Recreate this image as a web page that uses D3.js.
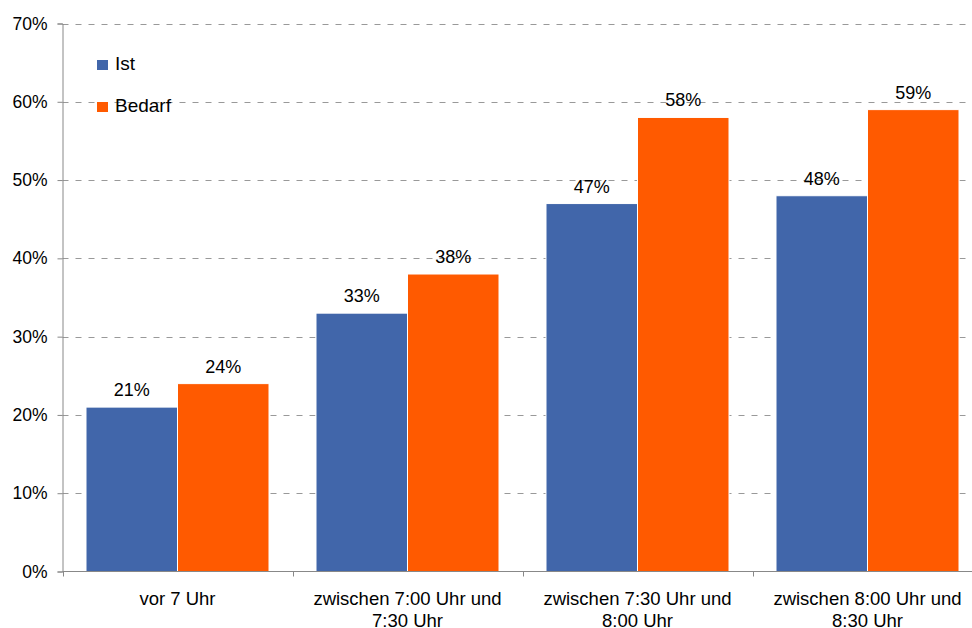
<!DOCTYPE html>
<html>
<head>
<meta charset="utf-8">
<script src="https://cdn.jsdelivr.net/npm/d3@7"></script>
<style>
  body { margin: 0; background: #fff; }
  text { font-family: "Liberation Sans", Arial, sans-serif; fill: #000; }
</style>
</head>
<body>
<div id="chart"></div>
<script>
var width = 972, height = 628;

var categories = [
  ["vor 7 Uhr"],
  ["zwischen 7:00 Uhr und", "7:30 Uhr"],
  ["zwischen 7:30 Uhr und", "8:00 Uhr"],
  ["zwischen 8:00 Uhr und", "8:30 Uhr"]
];
var seriesNames = ["Ist", "Bedarf"];
var istValues = [21, 33, 47, 48];
var bedarfValues = [24, 38, 58, 59];
var yTicks = [0, 10, 20, 30, 40, 50, 60, 70];
var colors = ["#4166aa", "#ff5a00"];

var svg = d3.select("#chart")
  .append("svg")
    .attr("width", width)
    .attr("height", height);

// x scales: one band per category, sub band per series
var x0 = d3.scaleBand()
  .domain(d3.range(categories.length))
  .range([62.5, 982.5])
  .padding(0);
var x1 = d3.scaleBand()
  .domain(seriesNames)
  .range([23.5, 206.5])
  .padding(0);

var y = d3.scaleLinear()
  .domain([0, 70])
  .range([571.5, 23.5]);

// gridlines
svg.append("g")
  .selectAll("line")
  .data(yTicks.slice(1))
  .enter()
  .append("line")
    .attr("x1", 62.5)
    .attr("x2", width)
    .attr("y1", function(d){ return Math.round(y(d)) + 0.5; })
    .attr("y2", function(d){ return Math.round(y(d)) + 0.5; })
    .attr("stroke", "#999")
    .attr("stroke-dasharray", "6,7");

// bars
var data = categories.map(function(c, i) {
  return [
    {series: "Ist", value: istValues[i]},
    {series: "Bedarf", value: bedarfValues[i]}
  ];
});

var groups = svg.append("g")
  .selectAll("g")
  .data(data)
  .enter()
  .append("g")
    .attr("transform", function(d, i){ return "translate(" + x0(i) + ",0)"; });

groups.selectAll("rect")
  .data(function(d){ return d; })
  .enter()
  .append("rect")
    .attr("x", function(d){ return x1(d.series); })
    .attr("y", function(d){ return y(d.value); })
    .attr("width", x1.bandwidth())
    .attr("height", function(d){ return y(0) - y(d.value); })
    .style("fill", function(d, i){ return colors[i]; })
    .attr("stroke", "#fff")
    .attr("stroke-width", 1);

// value labels
groups.selectAll("text")
  .data(function(d){ return d; })
  .enter()
  .append("text")
    .attr("x", function(d){ return x1(d.series) + x1.bandwidth() / 2; })
    .attr("y", function(d){ return y(d.value) - 11; })
    .attr("text-anchor", "middle")
    .style("font-size", "18px")
    .text(function(d){ return d.value + "%"; });

// Y axis
var yAxis = svg.append("g")
  .attr("transform", "translate(62.5,0)")
  .call(d3.axisLeft(y).tickValues(yTicks).tickSize(5).tickPadding(10)
    .tickFormat(function(d){ return d + "%"; }));
yAxis.select(".domain").attr("stroke", "#888");
yAxis.selectAll(".tick line").attr("stroke", "#888");
yAxis.selectAll(".tick text")
  .style("font-size", "17.5px")
  .style("font-family", "Liberation Sans, Arial, sans-serif")
  .attr("fill", "#000");

// X axis
var xAxis = svg.append("g")
  .attr("transform", "translate(0,571.5)");
xAxis.append("line")
  .attr("x1", 62.5).attr("x2", width)
  .attr("stroke", "#888");
xAxis.selectAll("line.tk")
  .data(d3.range(categories.length + 1))
  .enter()
  .append("line")
    .attr("class", "tk")
    .attr("x1", function(i){ return Math.round(62.5 + i * x0.step()) + 0.5; })
    .attr("x2", function(i){ return Math.round(62.5 + i * x0.step()) + 0.5; })
    .attr("y1", 0).attr("y2", 5)
    .attr("stroke", "#888");

xAxis.selectAll("text.cat")
  .data(categories)
  .enter()
  .append("text")
    .attr("class", "cat")
    .attr("text-anchor", "middle")
    .attr("x", function(d, i){ return x0(i) + x0.bandwidth() / 2; })
    .attr("y", 33.5)
    .style("font-size", "18.5px")
    .each(function(d) {
      var t = d3.select(this);
      d.forEach(function(line, k) {
        t.append("tspan")
          .attr("x", t.attr("x"))
          .attr("dy", k === 0 ? 0 : 21.5)
          .text(line);
      });
    });

// legend
var legend = svg.append("g")
  .selectAll("g")
  .data(seriesNames)
  .enter()
  .append("g")
    .attr("transform", function(d, i){ return "translate(97," + (60 + i * 42) + ")"; });
legend.append("rect")
  .attr("width", 11)
  .attr("height", 10)
  .style("fill", function(d, i){ return colors[i]; });
legend.append("text")
  .attr("x", 18)
  .attr("y", 10)
  .style("font-size", "19px")
  .text(function(d){ return d; });
</script>
</body>
</html>
